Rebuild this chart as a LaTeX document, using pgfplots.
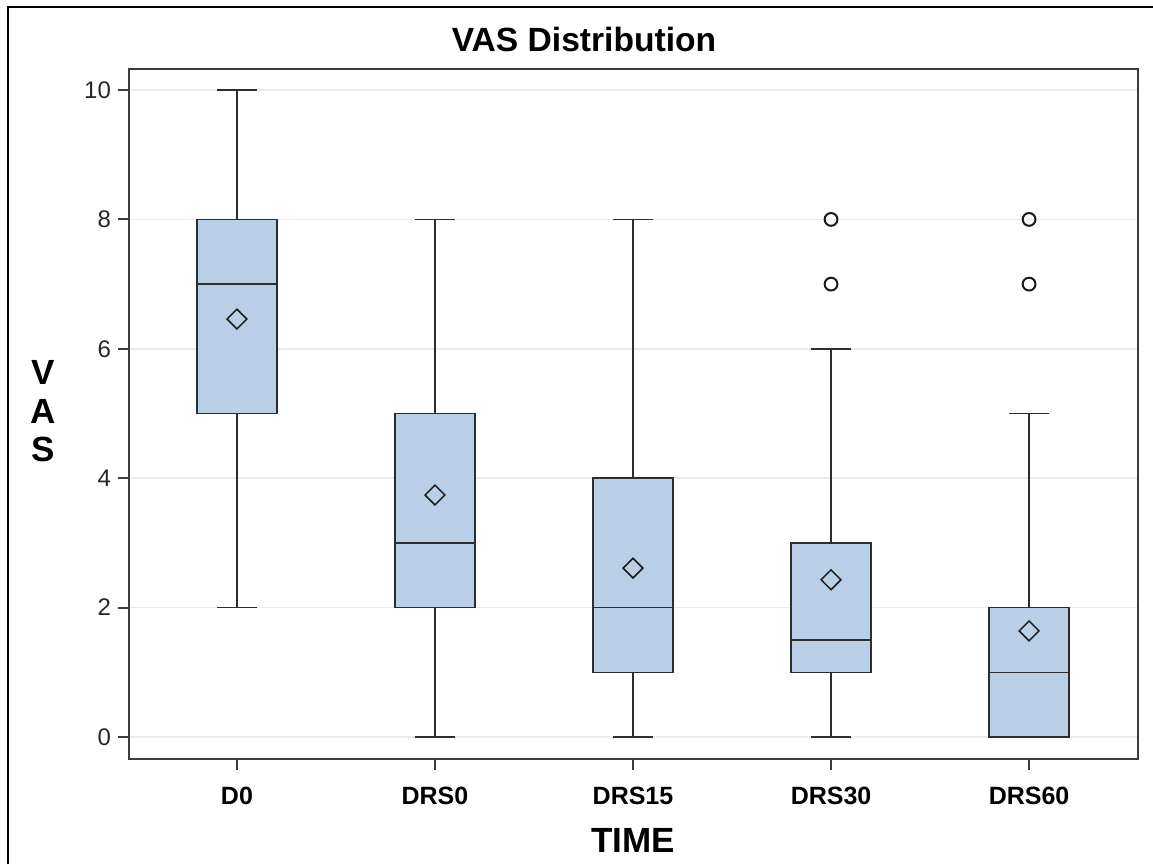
\documentclass[border=0pt]{standalone}
\usepackage{fontspec}
\setmainfont{Liberation Sans}
\usepackage{pgfplots}
\pgfplotsset{compat=1.18}
\usepgfplotslibrary{statistics}
\definecolor{boxfill}{RGB}{185,207,231}
\definecolor{boxdraw}{RGB}{45,45,45}
\definecolor{axisgray}{RGB}{60,60,60}
\definecolor{gridgray}{RGB}{234,234,234}
\begin{document}
\begin{tikzpicture}
\path[use as bounding box] (0,0) rectangle (576.5pt,432pt);
\draw[line width=1pt, black] (4pt,0pt) -- (4pt,428.7pt) -- (576.5pt,428.7pt);
\begin{axis}[
  at={(64.5pt,52.5pt)}, anchor=south west, scale only axis,
  width=504.5pt, height=345pt,
  xmin=-0.545, xmax=4.55, ymin=-0.34, ymax=10.325,
  xtick={0,1,2,3,4}, xticklabels={D0,DRS0,DRS15,DRS30,DRS60},
  ytick={0,2,4,6,8,10},
  xtick pos=left, ytick pos=left,
  tick align=outside, major tick length=5.5pt,
  ymajorgrids, grid style={gridgray, line width=0.75pt},
  axis line style={axisgray, line width=1pt},
  tick style={axisgray, line width=1pt},
  boxplot/draw direction=y,
  /pgf/number format/assume math mode=true,
  yticklabel style={font=\fontsize{12}{14}\selectfont, text=black!85},
  xticklabel style={font=\fontsize{12.5}{14}\selectfont\bfseries, yshift=-5pt},
  clip=false,
]
\addplot[boxplot prepared={draw position=0, lower whisker=2, lower quartile=5, median=7, upper quartile=8, upper whisker=10, box extend=0.404, whisker extend=0.202}, fill=boxfill, draw=boxdraw, line width=0.75pt] coordinates {};
\addplot[boxplot prepared={draw position=1, lower whisker=0, lower quartile=2, median=3, upper quartile=5, upper whisker=8, box extend=0.404, whisker extend=0.202}, fill=boxfill, draw=boxdraw, line width=0.75pt] coordinates {};
\addplot[boxplot prepared={draw position=2, lower whisker=0, lower quartile=1, median=2, upper quartile=4, upper whisker=8, box extend=0.404, whisker extend=0.202}, fill=boxfill, draw=boxdraw, line width=0.75pt] coordinates {};
\addplot[boxplot prepared={draw position=3, lower whisker=0, lower quartile=1, median=1.5, upper quartile=3, upper whisker=6, box extend=0.404, whisker extend=0.202}, fill=boxfill, draw=boxdraw, line width=0.75pt] coordinates {};
\addplot[boxplot prepared={draw position=4, lower whisker=0, lower quartile=0, median=1, upper quartile=2, upper whisker=5, box extend=0.404, whisker extend=0.202}, fill=boxfill, draw=boxdraw, line width=0.75pt] coordinates {};
% means
\addplot[only marks, mark=square, mark size=3.5pt, mark options={rotate=45, draw=black!90, fill=none, line width=0.75pt}] coordinates {(0,6.46) (1,3.74) (2,2.61) (3,2.43) (4,1.64)};
% outliers
\addplot[only marks, mark=o, mark size=3.2pt, mark options={draw=black!90, fill=white, line width=1pt}] coordinates {(3,7) (3,8) (4,7) (4,8)};
\end{axis}
\node[anchor=base, font=\fontsize{16.8}{18}\selectfont\bfseries] at (292pt,406pt) {VAS Distribution};
\node[anchor=base, font=\fontsize{17.5}{19}\selectfont\bfseries] at (316.5pt,6pt) {TIME};
\node[anchor=base, font=\fontsize{17.5}{19}\selectfont\bfseries] at (21.5pt,239.5pt) {V};
\node[anchor=base, font=\fontsize{17.5}{19}\selectfont\bfseries] at (21.5pt,220pt) {A};
\node[anchor=base, font=\fontsize{17.5}{19}\selectfont\bfseries] at (21.5pt,201pt) {S};
\end{tikzpicture}
\end{document}
